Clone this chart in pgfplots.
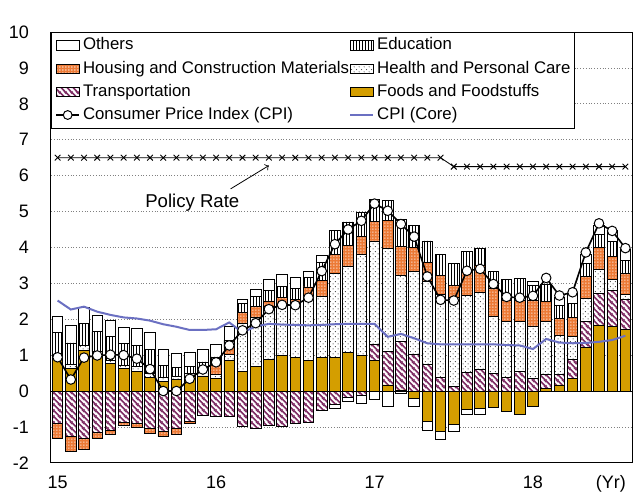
\documentclass[border=0pt]{standalone}
\usepackage{fontspec}
\setmainfont{Liberation Sans}
\usepackage{pgfplots}
\pgfplotsset{compat=1.18}
\usepackage{pgfplotstable}
\usetikzlibrary{patterns.meta}

\definecolor{gold}{HTML}{D49E00}
\definecolor{plum}{HTML}{7E2D64}
\definecolor{brick}{HTML}{EC7A36}
\definecolor{coreblue}{HTML}{6B70C2}

% fill patterns of the bars
\tikzdeclarepattern{name=slashes, type=uncolored,
  bottom left={(0pt,0pt)}, top right={(3pt,3pt)}, tile size={(3pt,3pt)},
  code={\draw[line width=0.9pt] (-1pt,4pt)--(4pt,-1pt) (-1pt,1pt)--(1pt,-1pt) (2pt,4pt)--(4pt,2pt);}}
\tikzdeclarepattern{name=holes, type=uncolored,
  bottom left={(0pt,0pt)}, top right={(1.4pt,1.4pt)}, tile size={(1.4pt,1.4pt)},
  code={\fill (0.2pt,0.2pt) rectangle (0.75pt,0.75pt);}}
\tikzdeclarepattern{name=dotty, type=uncolored,
  bottom left={(0pt,0pt)}, top right={(2.6pt,2.6pt)}, tile size={(2.6pt,2.6pt)},
  code={\fill (0.65pt,0.65pt) circle (0.3pt) (1.95pt,1.95pt) circle (0.3pt);}}
\tikzdeclarepattern{name=vlines, type=uncolored,
  bottom left={(0pt,0pt)}, top right={(1.7pt,1.7pt)}, tile size={(1.7pt,1.7pt)},
  code={\draw[line width=0.4pt] (0.85pt,-0.2pt)--(0.85pt,1.9pt);}}

\pgfplotsset{
  frame/.style={width=290.5pt, height=215.4pt, scale only axis,
    xmin=-0.5, xmax=43.5, ymin=-2, ymax=10},
  stackbars/.style={ybar stacked, bar width=0.8},
  swatch/.style={legend image code/.code={\draw[##1] (0pt,-2.3pt) rectangle (11.5pt,2.3pt);}},
  dotleg/.style={legend image code/.code={\draw[mark repeat=2,mark phase=2,##1] plot coordinates {(0pt,0pt) (5.75pt,0pt) (11.5pt,0pt)};}},
  lineleg/.style={legend image code/.code={\draw[##1] (0pt,0pt) -- (11.5pt,0pt);}},
}

% month index from Jan 2015; contributions in % points
\pgfplotstableread{
m foods transp health housing edu others cpi core rate
0 1.00 -0.90 0.03 -0.42 0.60 0.46 0.94 2.52 6.50
1 0.63 -1.27 0.12 -0.42 0.59 0.48 0.32 2.27 6.50
2 1.12 -1.32 0.16 -0.30 0.60 0.46 0.93 2.35 6.50
3 1.00 -1.16 0.10 -0.16 0.55 0.47 0.99 2.21 6.50
4 0.78 -1.10 0.08 -0.10 0.65 0.45 1.01 2.12 6.50
5 0.62 -0.87 0.10 -0.10 0.60 0.46 1.00 2.05 6.50
6 0.54 -0.90 0.14 -0.10 0.60 0.47 0.90 2.02 6.50
7 0.38 -1.04 0.10 -0.14 0.67 0.47 0.61 1.96 6.50
8 0.27 -1.13 0.10 -0.14 0.34 0.45 0.00 1.86 6.50
9 0.33 -1.04 0.08 -0.16 0.25 0.38 0.00 1.79 6.50
10 0.40 -0.85 0.10 -0.05 0.18 0.39 0.34 1.70 6.50
11 0.42 -0.67 0.23 0.00 0.16 0.35 0.60 1.70 6.50
12 0.35 -0.72 0.10 0.28 0.22 0.35 0.80 1.72 6.50
13 0.86 -0.70 0.15 0.20 0.20 0.40 1.27 1.91 6.50
14 0.54 -0.99 1.33 0.32 0.26 0.11 1.69 1.63 6.50
15 0.68 -1.04 1.37 0.30 0.28 0.19 1.89 1.80 6.50
16 0.89 -0.95 1.46 0.16 0.28 0.31 2.28 1.87 6.50
17 0.98 -0.99 1.44 0.19 0.30 0.34 2.40 1.85 6.50
18 0.93 -0.90 1.51 0.10 0.32 0.31 2.39 1.84 6.50
19 0.84 -0.88 1.78 0.28 0.26 0.18 2.60 1.83 6.50
20 0.94 -0.55 1.69 0.45 0.50 0.20 3.34 1.84 6.50
21 0.94 -0.37 2.34 0.53 0.66 -0.11 4.09 1.86 6.50
22 1.07 -0.18 2.41 0.58 0.65 -0.12 4.50 1.87 6.50
23 1.00 -0.11 2.80 0.51 0.67 -0.23 4.74 1.87 6.50
24 0.84 0.46 2.88 0.54 0.62 -0.23 5.22 1.87 6.50
25 0.17 0.93 2.88 0.76 0.58 -0.42 5.02 1.51 6.50
26 0.03 1.35 1.83 0.82 0.76 -0.08 4.65 1.59 6.50
27 -0.20 1.02 2.32 0.66 0.60 -0.22 4.30 1.47 6.50
28 -0.85 0.74 2.30 0.53 0.61 -0.24 3.19 1.33 6.50
29 -1.13 0.38 2.32 0.53 0.58 -0.23 2.54 1.30 6.50
30 -0.92 0.12 2.49 0.34 0.60 -0.21 2.52 1.30 6.25
31 -0.50 0.52 2.13 0.65 0.59 -0.15 3.35 1.30 6.25
32 -0.49 0.61 2.14 0.76 0.46 -0.17 3.40 1.30 6.25
33 -0.46 0.49 1.58 0.79 0.48 0.00 2.98 1.30 6.25
34 -0.57 0.38 1.55 0.60 0.58 0.00 2.62 1.28 6.25
35 -0.65 0.54 1.41 0.58 0.61 0.00 2.60 1.27 6.25
36 -0.42 0.35 1.46 0.72 0.42 0.10 2.65 1.17 6.25
37 0.07 0.39 1.47 0.56 0.49 0.00 3.15 1.45 6.25
38 0.17 0.28 1.11 0.46 0.37 0.23 2.66 1.35 6.25
39 0.35 0.53 0.65 0.52 0.39 0.28 2.75 1.33 6.25
40 1.21 0.72 0.65 0.60 0.37 0.26 3.86 1.34 6.25
41 1.84 0.88 0.67 0.61 0.37 0.25 4.67 1.37 6.25
42 1.79 1.02 0.30 0.65 0.40 0.30 4.46 1.42 6.25
43 1.72 0.82 0.14 0.60 0.35 0.32 3.98 1.54 6.25
}\data

\begin{document}
\begin{tikzpicture}

% frame, grid and the positive parts of the bars
\begin{axis}[frame, stackbars,
  xtick={0,12,24,36}, xticklabels={15,16,17,18},
  extra x ticks={41.9}, extra x tick labels={(Yr)},
  ytick={-2,...,10}, ymajorgrids,
  major grid style={densely dotted, gray, line width=0.4pt},
  major tick length=0pt,
  axis line style={black, line width=0.5pt},
  tick label style={font=\fontsize{9}{10}\selectfont},
  /pgf/number format/assume math mode=true,
  yticklabel style={xshift=-7.5pt},
  xticklabel style={yshift=-3pt},
]
\coordinate (SW) at (rel axis cs:0,0);
\coordinate (NE) at (rel axis cs:1,1);
\addplot[draw=black, fill=gold] table[x=m, y expr={max(\thisrow{foods},0)}] {\data};
\addplot[draw=black, fill=white, postaction={pattern={slashes}, pattern color=plum}] table[x=m, y expr={max(\thisrow{transp},0)}] {\data};
\addplot[draw=black, fill=white, postaction={pattern={dotty}, pattern color=black!75}] table[x=m, y expr={max(\thisrow{health},0)}] {\data};
\addplot[draw=black, fill=brick, postaction={pattern={holes}, pattern color=white}] table[x=m, y expr={max(\thisrow{housing},0)}] {\data};
\addplot[draw=black, fill=white, postaction={pattern={vlines}, pattern color=black}] table[x=m, y expr={max(\thisrow{edu},0)}] {\data};
\addplot[draw=black, fill=white] table[x=m, y expr={max(\thisrow{others},0)}] {\data};
\end{axis}

% negative parts, stacked downwards
\begin{axis}[frame, stackbars, hide axis]
\addplot[draw=black, fill=gold] table[x=m, y expr={min(\thisrow{foods},0)}] {\data};
\addplot[draw=black, fill=white, postaction={pattern={slashes}, pattern color=plum}] table[x=m, y expr={min(\thisrow{transp},0)}] {\data};
\addplot[draw=black, fill=white, postaction={pattern={dotty}, pattern color=black!75}] table[x=m, y expr={min(\thisrow{health},0)}] {\data};
\addplot[draw=black, fill=brick, postaction={pattern={holes}, pattern color=white}] table[x=m, y expr={min(\thisrow{housing},0)}] {\data};
\addplot[draw=black, fill=white, postaction={pattern={vlines}, pattern color=black}] table[x=m, y expr={min(\thisrow{edu},0)}] {\data};
\addplot[draw=black, fill=white] table[x=m, y expr={min(\thisrow{others},0)}] {\data};
\end{axis}

% lines, annotation and legend
\begin{axis}[frame, hide axis,
  legend columns=2, legend cell align=left,
  legend style={at={(rel axis cs:0,1)}, anchor=north west,
    draw=black, fill=white, font=\fontsize{8.4}{9}\selectfont,
    inner xsep=2pt, inner ysep=2.5pt, row sep=3.6pt,
    nodes={inner sep=0pt, text height=6.2pt, text depth=1.8pt, align=left},
    column 2/.style={nodes={text width=135.5pt}},
    column 4/.style={nodes={text width=131pt}},
    /tikz/every odd column/.append style={column sep=1.5pt}},
]
\addlegendimage{swatch, draw=black, fill=white}
\addlegendentry{Others}
\addlegendimage{swatch, draw=black, fill=white, postaction={pattern={vlines}, pattern color=black}}
\addlegendentry{Education}
\addlegendimage{swatch, draw=black, fill=brick, postaction={pattern={holes}, pattern color=white}}
\addlegendentry{Housing and Construction Materials}
\addlegendimage{swatch, draw=black, fill=white, postaction={pattern={dotty}, pattern color=black!75}}
\addlegendentry{Health and Personal Care}
\addlegendimage{swatch, draw=black, fill=white, postaction={pattern={slashes}, pattern color=plum}}
\addlegendentry{Transportation}
\addlegendimage{swatch, draw=black, fill=gold}
\addlegendentry{Foods and Foodstuffs}
\addlegendimage{dotleg, black, line width=0.8pt, mark=*, mark size=2.2pt, mark options={fill=white, draw=black, line width=0.5pt}}
\addlegendentry{Consumer Price Index (CPI)}
\addlegendimage{lineleg, coreblue, line width=1pt}
\addlegendentry{CPI (Core)}

\draw[black, line width=0.5pt] (axis cs:-0.5,0) -- (axis cs:43.5,0);
\addplot[forget plot, black, line width=0.4pt, mark=x, mark size=2pt, mark options={line width=0.45pt}] table[x=m, y=rate] {\data};
\addplot[forget plot, coreblue, line width=1pt] table[x=m, y=core] {\data};
\addplot[forget plot, black, line width=0.8pt, mark=*, mark size=2.4pt, mark options={fill=white, draw=black, line width=0.5pt}] table[x=m, y=cpi] {\data};

\node[font=\fontsize{9.3}{10}\selectfont] at (axis cs:10.2,5.25) {Policy Rate};
\draw[->, line width=0.4pt] (axis cs:13.1,5.63) -- (axis cs:16.0,6.28);
\node[anchor=south west, inner sep=0pt, xshift=-5.5pt, yshift=1pt, font=\fontsize{9}{10}\selectfont] at (rel axis cs:0,1) {(YoY, \%)};
\end{axis}

\pgfresetboundingbox
\path[use as bounding box] ([shift={(-25.5pt,-15.5pt)}]SW) rectangle ([shift={(6pt,16pt)}]NE);
\end{tikzpicture}
\end{document}
